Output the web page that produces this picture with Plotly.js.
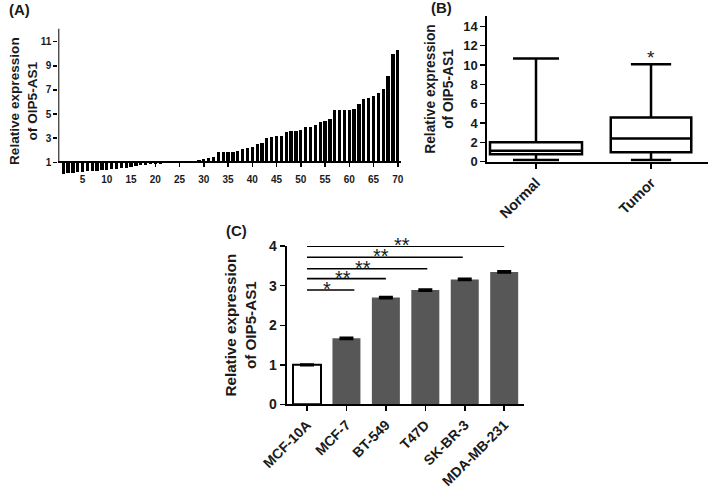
<!DOCTYPE html>
<html><head><meta charset="utf-8">
<script src="https://cdn.plot.ly/plotly-3.0.1.min.js"></script>
<style>html,body{margin:0;padding:0;background:#fff}#chart{width:709px;height:490px}</style>
</head><body><div id="chart"></div>
<script>
// ---- Panel A data ----
const sampleIndex = Array.from({length: 70}, (_, i) => i + 1);
const relExpr = [0.06,0.14,0.15,0.18,0.23,0.26,0.28,0.31,0.34,0.37,
                 0.42,0.45,0.50,0.56,0.62,0.70,0.75,0.80,0.84,0.87,
                 0.90,0.93,0.95,0.98,1.05,1.10,1.12,1.14,1.20,1.28,
                 1.36,1.45,1.88,1.88,1.88,1.88,1.97,2.13,2.20,2.30,
                 2.52,2.58,3.04,3.10,3.18,3.18,3.48,3.57,3.57,3.71,
                 3.90,3.90,4.12,4.31,4.43,4.62,5.31,5.36,5.36,5.36,
                 5.45,5.86,6.28,6.36,6.47,6.77,7.10,8.13,9.98,10.28];
const aTicksX = [5,10,15,20,25,30,35,40,45,50,55,60,65,70];
const aTicksY = [1,3,5,7,9,11];
const aBase = 1;

// ---- Panel B data ----
const groupNames = ['Normal', 'Tumor'];
const boxLow = [0.17, 0.17];
const boxQ1 = [0.76, 0.97];
const boxMedian = [1.13, 2.41];
const boxQ3 = [2.00, 4.58];
const boxHigh = [10.67, 10.08];
const bTicksY = [0,2,4,6,8,10,12,14];

// ---- Panel C data ----
const cellLines = ['MCF-10A','MCF-7','BT-549','T47D','SK-BR-3','MDA-MB-231'];
const cellExpr = [1.00, 1.67, 2.70, 2.89, 3.16, 3.35];
const cellErr = [0.01, 0.015, 0.015, 0.015, 0.015, 0.015];
const cTicksY = [0,1,2,3,4];
const sigStart = [0, 0, 0, 0, 0];
const sigEnd = [1.2, 2.0, 3.05, 3.95, 5.0];
const sigLevel = [2.89, 3.18, 3.43, 3.72, 4.00];
const sigLabel = ['*', '**', '**', '**', '**'];

const yTitle = 'Relative expression<br>of OIP5-AS1';
const FONT = 'Liberation Sans, Arial, Helvetica, sans-serif';
const INK = '#1a1a1a';
const W = 709, H = 490;
const px = v => v / W;
const py = v => 1 - v / H;

const traces = [];
// Panel A bars
traces.push({
  type: 'bar', x: sampleIndex, y: relExpr.map(v => v - aBase), base: aBase,
  marker: {color: '#000'}, width: 0.68, xaxis: 'x', yaxis: 'y',
  hoverinfo: 'skip', showlegend: false
});
// Panel B boxes
const bWidths = [0.8, 0.7];
groupNames.forEach((g, i) => {
  traces.push({
    type: 'box', x: [g], q1: [boxQ1[i]], median: [boxMedian[i]], q3: [boxQ3[i]],
    lowerfence: [boxLow[i]], upperfence: [boxHigh[i]],
    fillcolor: '#fff', line: {color: '#000', width: 2.5}, width: bWidths[i],
    whiskerwidth: 0.5, boxpoints: false, xaxis: 'x2', yaxis: 'y2',
    hoverinfo: 'skip', showlegend: false
  });
});
// Panel C bars
traces.push({
  type: 'bar', x: cellLines.map((_, i) => i), y: cellExpr,
  marker: {color: cellLines.map((_, i) => i === 0 ? '#ffffff' : '#575757'),
           line: {color: cellLines.map((_, i) => i === 0 ? '#000' : '#575757'),
                  width: cellLines.map((_, i) => i === 0 ? 2 : 0)}},
  width: 0.71,
  error_y: {type: 'data', array: cellErr, color: '#000', thickness: 2.5, width: 7},
  xaxis: 'x3', yaxis: 'y3', hoverinfo: 'skip', showlegend: false
});
// Panel C significance lines
sigLevel.forEach((lv, i) => {
  traces.push({
    type: 'scatter', mode: 'lines', x: [sigStart[i], sigEnd[i]], y: [lv, lv],
    line: {color: '#000', width: 1.6}, cliponaxis: false,
    xaxis: 'x3', yaxis: 'y3', hoverinfo: 'skip', showlegend: false
  });
});

const tickBase = {ticks: 'outside', tickcolor: '#000', tickwidth: 1.5, showgrid: false, zeroline: false};
const annotations = [
  {text: '<b>(A)</b>', xref: 'paper', yref: 'paper', x: px(19), y: 1, xanchor: 'center', yanchor: 'top', yshift: 1, showarrow: false, font: {size: 15, family: FONT, color: INK}},
  {text: '<b>(B)</b>', xref: 'paper', yref: 'paper', x: px(441), y: 1, xanchor: 'center', yanchor: 'top', yshift: 3, showarrow: false, font: {size: 15, family: FONT, color: INK}},
  {text: '<b>(C)</b>', xref: 'paper', yref: 'paper', x: px(236), y: py(230), xanchor: 'center', yanchor: 'middle', showarrow: false, font: {size: 15, family: FONT, color: INK}},
  {text: yTitle, xref: 'paper', yref: 'paper', x: px(23), y: py(101), xanchor: 'center', yanchor: 'middle', textangle: -90, showarrow: false,
   font: {size: 13.6, family: FONT, color: INK, weight: 'bold'}},
  {text: '*', xref: 'x2', yref: 'y2', x: groupNames[1], y: boxHigh[1], yanchor: 'bottom', yshift: -6, showarrow: false, font: {size: 19, family: FONT, color: INK}}
];
sigLabel.forEach((t, i) => {
  annotations.push({text: t, xref: 'x3', yref: 'y3', x: (sigStart[i] + sigEnd[i]) / 2 - 0.1, y: sigLevel[i],
    yanchor: 'bottom', yshift: -12, showarrow: false, font: {size: 20, family: FONT, color: INK}});
});

const layout = {
  width: W, height: H, margin: {l: 0, r: 0, t: 0, b: 0},
  paper_bgcolor: '#fff', plot_bgcolor: 'rgba(0,0,0,0)',
  font: {family: FONT, color: INK},
  bargap: 0, boxmode: 'overlay', showlegend: false,
  xaxis: Object.assign({}, tickBase, {
    domain: [px(58.3), px(400.7)], range: [0, 70.6], anchor: 'free', position: py(162.3),
    tickvals: aTicksX, ticklen: 4, showline: true, linewidth: 2, linecolor: '#000',
    tickfont: {size: 10, weight: 'bold'}, ticklabelstandoff: 4
  }),
  yaxis: Object.assign({}, tickBase, {
    domain: [py(174.4), py(28.4)], range: [0, 12.1], anchor: 'x',
    tickvals: aTicksY, ticklen: 4, showline: false,
    tickfont: {size: 10, weight: 'bold'}
  }),
  xaxis2: Object.assign({}, tickBase, {
    domain: [px(487.3), px(708.3)], range: [-0.4235, 1.498], anchor: 'y2', type: 'category',
    ticklen: 5, showline: true, linewidth: 2, linecolor: '#000', tickangle: -45,
    tickfont: {size: 14.5, weight: 'bold'}
  }),
  yaxis2: Object.assign({}, tickBase, {
    domain: [py(161.7), py(16.3)], range: [0, 15.04], anchor: 'x2',
    tickvals: bTicksY, ticklen: 5, showline: true, linewidth: 2, linecolor: '#000',
    tickfont: {size: 13, weight: 'bold'},
    title: {text: yTitle, font: {size: 13.8, weight: 'bold'}, standoff: 6}
  }),
  xaxis3: Object.assign({}, tickBase, {
    domain: [px(286.7), px(524.3)], range: [-0.515, 5.51], anchor: 'y3',
    tickvals: cellLines.map((_, i) => i), ticktext: cellLines,
    ticklen: 5, showline: true, linewidth: 2, linecolor: '#000', tickangle: -45,
    tickfont: {size: 14, weight: 'bold'}
  }),
  yaxis3: Object.assign({}, tickBase, {
    domain: [py(404.3), py(246)], range: [0, 4.005], anchor: 'x3',
    tickvals: cTicksY, ticklen: 5, showline: true, linewidth: 2, linecolor: '#000',
    tickfont: {size: 14, weight: 'bold'},
    title: {text: yTitle, font: {size: 15.2, weight: 'bold'}, standoff: 9}
  }),
  shapes: [
    {type: 'line', xref: 'x', yref: 'y', x0: 0, x1: 0, y0: aBase, y1: 12.1, line: {color: '#000', width: 2}}
  ],
  annotations: annotations
};

Plotly.newPlot('chart', traces, layout, {displayModeBar: false, staticPlot: true});
</script>
</body></html>
